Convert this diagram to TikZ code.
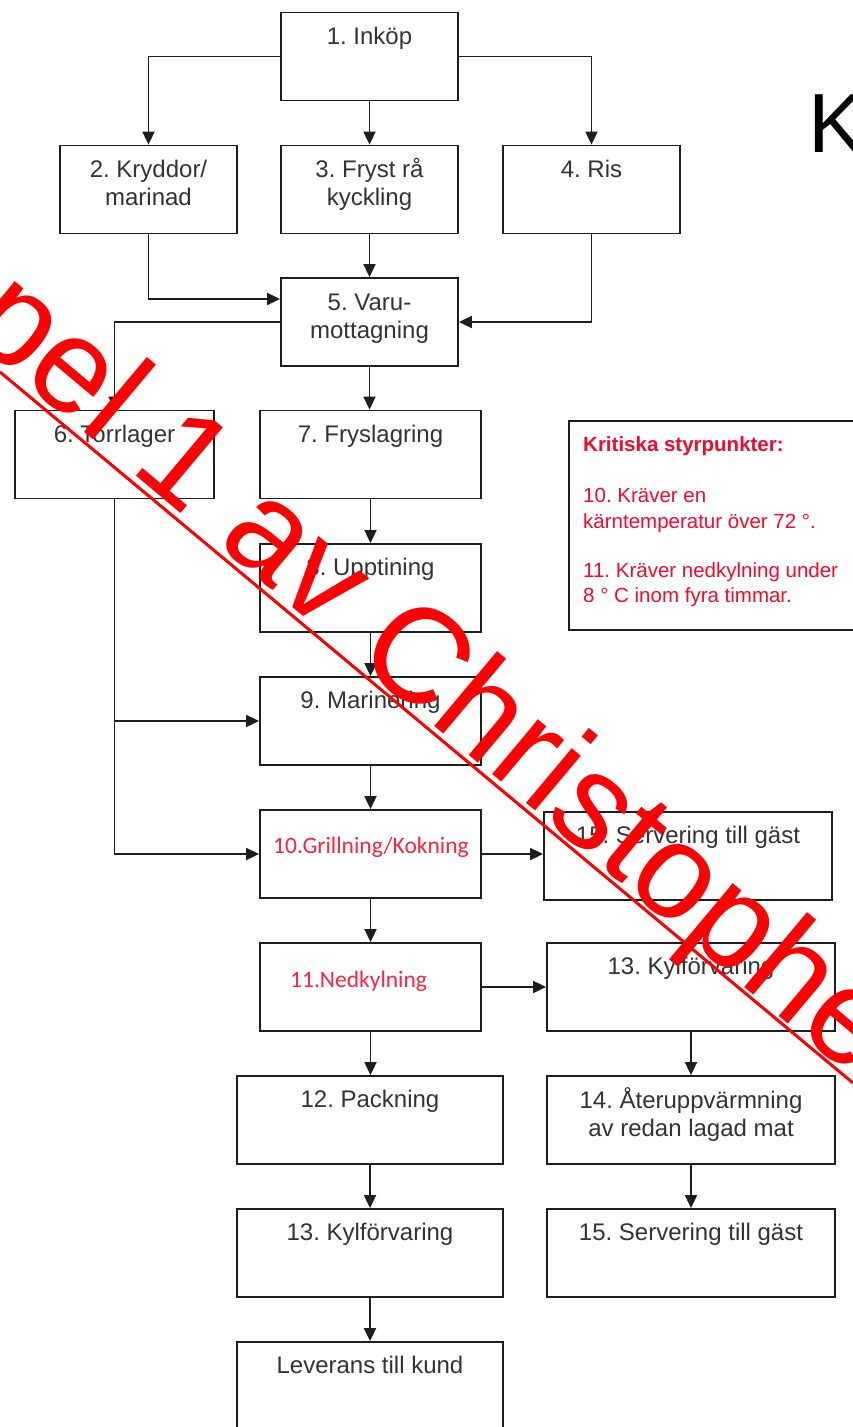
\documentclass[tikz,border=0pt]{standalone}
\usepackage{fontspec}
\usetikzlibrary{arrows.meta,calc}
\newfontfamily\af{Liberation Sans}
\newfontfamily\cf{Carlito}
\definecolor{linec}{HTML}{1E1E1E}
\definecolor{txt}{HTML}{333333}
\definecolor{wmred}{HTML}{FF0000}
\definecolor{critc}{RGB}{245,10,45}
\definecolor{cpc}{RGB}{250,35,65}
\tikzset{
  box/.style={draw=linec, line width=1.8pt, minimum height=88pt, inner sep=0pt, fill=white},
  lbl/.style={anchor=base, inner sep=0pt, text=txt, font=\af\fontsize{24}{28}\selectfont},
  cplbl/.style={anchor=base west, inner sep=0pt, text=cpc, font=\cf\fontsize{23.5}{28}\selectfont},
  critlbl/.style={anchor=base west, inner sep=0pt, text=critc, font=\af\fontsize{20.5}{26}\selectfont},
  arr/.style={draw=linec, line width=1.8pt, -{Triangle[length=13pt,width=12pt]}},
}
\begin{document}
\frenchspacing
\begin{tikzpicture}[x=1pt,y=-1pt]
\useasboundingbox (0,0) rectangle (853,1427);
\fill[white] (0,0) rectangle (853,1427);
\clip (0,0) rectangle (853,1427);
% boxes
\node[box, minimum width=177pt] (n1) at (369.5,56.5) {};
\node[box, minimum width=177pt] (n2) at (148.5,189.5) {};
\node[box, minimum width=177pt] (n3) at (369.5,189.5) {};
\node[box, minimum width=177pt] (n4) at (591.5,189.5) {};
\node[box, minimum width=177pt] (n5) at (369.5,322) {};
\node[box, minimum width=199pt] (n6) at (114.5,454.5) {};
\node[box, minimum width=221pt] (n7) at (370.5,454.5) {};
\node[box, minimum width=221pt] (n8) at (370.5,588) {};
\node[box, minimum width=221pt] (n9) at (370.5,721) {};
\node[box, minimum width=221pt] (n10) at (370.5,854) {};
\node[box, minimum width=288pt] (n15a) at (688,856) {};
\node[box, minimum width=221pt] (n11) at (370.5,987) {};
\node[box, minimum width=288pt] (n13a) at (691,987) {};
\node[box, minimum width=266pt] (n12) at (370,1120) {};
\node[box, minimum width=288pt] (n14) at (691,1120) {};
\node[box, minimum width=266pt] (n13b) at (370,1253) {};
\node[box, minimum width=288pt] (n15b) at (691,1253) {};
\node[box, minimum width=266pt] (n16) at (370,1386) {};
\node[box, minimum width=310pt, minimum height=209pt, anchor=north west] (crit) at (568,420) {};
% labels
\node[lbl] (t1) at ([yshift=-32.5pt]n1.north) {1. Inköp};
\node[lbl] (t2a) at ([yshift=-32.5pt]n2.north) {2. Kryddor/};
\node[lbl] (t2b) at ([yshift=-60.5pt]n2.north) {marinad};
\node[lbl] (t3a) at ([yshift=-32.5pt]n3.north) {3. Fryst rå};
\node[lbl] (t3b) at ([yshift=-60.5pt]n3.north) {kyckling};
\node[lbl] (t4) at ([yshift=-32.5pt]n4.north) {4. Ris};
\node[lbl] (t5a) at ([yshift=-33pt]n5.north) {5. Varu-};
\node[lbl] (t5b) at ([yshift=-61pt]n5.north) {mottagning};
\node[lbl] (t6) at ([yshift=-32.5pt]n6.north) {6. Torrlager};
\node[lbl] (t7) at ([yshift=-32.5pt]n7.north) {7. Fryslagring};
\node[lbl] (t8) at ([yshift=-32.5pt]n8.north) {8. Upptining};
\node[lbl] (t9) at ([yshift=-32.5pt]n9.north) {9. Marinering};
\node[cplbl] (t10) at (273,853) {10.Grillning/Kokning};
\node[lbl] (t15a) at ([yshift=-32.5pt]n15a.north) {15. Servering till gäst};
\node[cplbl] (t11) at (290,987) {11.Nedkylning};
\node[lbl] (t13a) at ([yshift=-32.5pt]n13a.north) {13. Kylförvaring};
\node[lbl] (t12) at ([yshift=-32.5pt]n12.north) {12. Packning};
\node[lbl] (t14a) at ([yshift=-33pt]n14.north) {14. Återuppvärmning};
\node[lbl] (t14b) at ([yshift=-61pt]n14.north) {av redan lagad mat};
\node[lbl] (t13b) at ([yshift=-32.5pt]n13b.north) {13. Kylförvaring};
\node[lbl] (t15b) at ([yshift=-32.5pt]n15b.north) {15. Servering till gäst};
\node[lbl] (t16) at ([yshift=-32.5pt]n16.north) {Leverans till kund};
% critical points
\node[critlbl, font=\af\bfseries\fontsize{20.5}{26}\selectfont] (c0) at (583,451) {Kritiska styrpunkter:};
\node[critlbl] (c1) at (583,502) {10. Kräver en};
\node[critlbl] (c2) at (583,528) {kärntemperatur över 72 °.};
\node[critlbl] (c3) at (583,577) {11. Kräver nedkylning under};
\node[critlbl] (c4) at (583,602) {8 ° C inom fyra timmar.};
% title letter
\node[anchor=base west, inner sep=0pt, font=\af\fontsize{84}{84}\selectfont] (ttl) at (808,152) {K};
% connectors
\draw[arr] (n1.west) -| (n2.north);
\draw[arr] (n1.south) -- (n3.north);
\draw[arr] (n1.east) -| (n4.north);
\draw[arr] (n2.south) |- ([yshift=23pt]n5.west);
\draw[arr] (n3.south) -- (n5.north);
\draw[arr] (n4.south) |- (n5.east);
\draw[arr] (n5.west) -| (n6.north);
\draw[arr] (n5.south) -- (n5.south |- n7.north);
\draw[arr] (n7.south) -- (n8.north);
\draw[arr] (n8.south) -- (n9.north);
\draw[arr] (n6.south) |- (n10.west);
\draw[arr] (n6.south |- n9.west) -- (n9.west);
\draw[arr] (n9.south) -- (n10.north);
\draw[arr] (n10.east) -- (n10.east -| n15a.west);
\draw[arr] (n10.south) -- (n11.north);
\draw[arr] (n11.east) -- (n13a.west);
\draw[arr] (n11.south) -- (n11.south |- n12.north);
\draw[arr] (n13a.south) -- (n14.north);
\draw[arr] (n12.south) -- (n13b.north);
\draw[arr] (n14.south) -- (n15b.north);
\draw[arr] (n13b.south) -- (n16.north);
% watermark
\node[rotate=-40, anchor=base west, inner sep=0pt, text=wmred, font=\af\fontsize{135}{135}\selectfont] (wm) at (-38,330) {pel 1 av Christophe};
\coordinate (wl0) at (0,372);
\coordinate (wl1) at (853,1083);
\draw[wmred, line width=3pt] (wl0) -- (wl1);
\end{tikzpicture}
\end{document}
